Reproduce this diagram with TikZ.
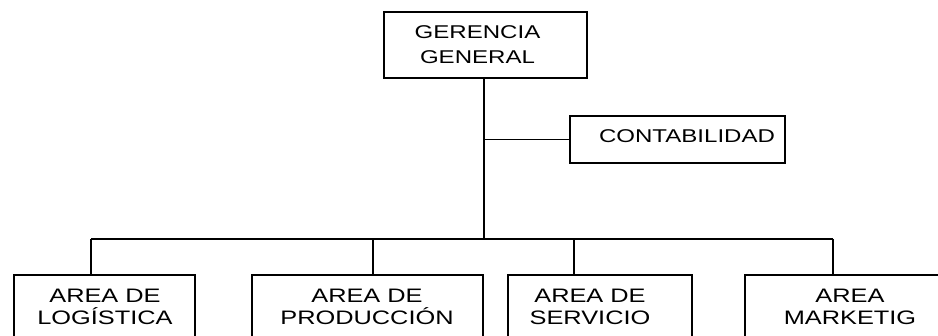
\documentclass[tikz,border=0pt]{standalone}
\usepackage{fontspec}
\setmainfont[FakeStretch=1.3]{Liberation Sans}
\begin{document}
\begin{tikzpicture}[x=1pt,y=-1pt,
  box/.style={draw=black, line width=2.6pt, rectangle, inner sep=0pt},
  lbl/.style={inner sep=0pt, anchor=north, align=center},
  big/.style={font=\fontsize{18.5}{25}\selectfont},
  small/.style={font=\fontsize{19.5}{22}\selectfont},
  link/.style={draw=black, line width=1.4pt}]
\useasboundingbox (0,0) rectangle (938,336);
\clip (0,0) rectangle (938,336);
% boxes
\node[box, minimum width=203, minimum height=66] (ger) at (485.5,45) {};
\node[box, minimum width=215, minimum height=47] (cont) at (677.5,139.5) {};
\node[box, minimum width=181, minimum height=76] (log) at (104.5,313) {};
\node[box, minimum width=231, minimum height=76] (prod) at (367.5,313) {};
\node[box, minimum width=184, minimum height=76] (serv) at (600,313) {};
\node[box, minimum width=230, minimum height=76] (mark) at (860,313) {};
% texts
\node[lbl, big] (gert) at (477.5,25) {GERENCIA\\GENERAL};
\node[lbl, big] (contt) at (687,129) {CONTABILIDAD};
\node[lbl, small] (logt) at (105,289) {AREA DE\\LOGÍSTICA};
\node[lbl, small] (prodt) at (367,289) {AREA DE\\PRODUCCIÓN};
\node[lbl, small] (servt) at (590,289) {AREA DE\\SERVICIO};
\node[lbl, small] (markt) at (850,289) {AREA\\MARKETIG};
% connectors
\coordinate (hub) at (484,239);
\coordinate (busL) at (91,239);
\coordinate (busP) at (373,239);
\coordinate (busS) at (574,239);
\coordinate (busR) at (833,239);
\draw[link] (ger.south -| hub) -- (hub);
\draw[link] (cont.west -| hub) -- (cont.west);
\draw[link] (busL) -- (busR);
\draw[link] (busL) -- (log.north -| busL);
\draw[link] (busP) -- (prod.north -| busP);
\draw[link] (busS) -- (serv.north -| busS);
\draw[link] (busR) -- (mark.north -| busR);
\end{tikzpicture}
\end{document}
